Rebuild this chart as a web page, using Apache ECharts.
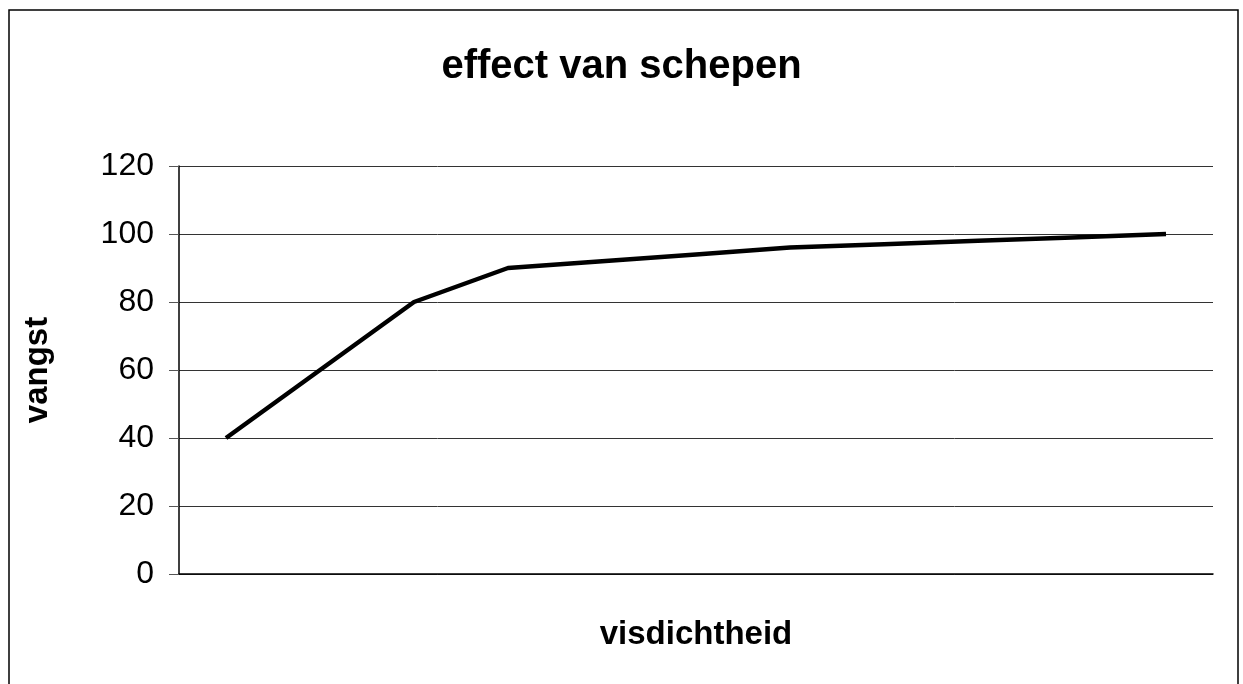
<!DOCTYPE html>
<html>
<head>
<meta charset="utf-8">
<script src="https://cdn.jsdelivr.net/npm/echarts@6/dist/echarts.min.js"></script>
<style>
	html, body { margin: 0; padding: 0; background: #fff; }
	#chart { width: 1243px; height: 684px; }
</style>
</head>
<body>
<div id="chart"></div>
<script>
// categorieen op de x-as (geen labels zichtbaar in het origineel)
const visdichtheid = ['1', '2', '3', '4', '5', '6', '7', '8', '9', '10', '11'];
// vangst per categorie
const vangst = [40, 60, 80, 90, 92, 94, 96, 97, 98, 99, 100];
// y-as
const yMin = 0;
const yMax = 120;
const yStep = 20;

const font = 'Liberation Sans, Arial, sans-serif';

let myChart = echarts.init(document.getElementById('chart'));
myChart.setOption({
	backgroundColor: '#fff',
	animation: false,
	title: {
		text: 'effect van schepen',
		left: 'center',
		top: 42,
		textStyle: {
			fontFamily: font,
			fontSize: 40,
			fontWeight: 'bold',
			color: '#000',
		},
	},
	// kader rond de grafiek
	graphic: [
		{
			type: 'rect',
			shape: { x: 9, y: 10, width: 1229, height: 700 },
			style: { fill: 'none', stroke: '#000', lineWidth: 1.5 },
			silent: true,
		},
	],
	grid: {
		left: 179,
		right: 30,
		top: 166,
		bottom: 110,
	},
	xAxis: {
		type: 'category',
		data: visdichtheid,
		boundaryGap: true,
		name: 'visdichtheid',
		nameLocation: 'middle',
		nameGap: 44,
		nameTextStyle: {
			fontFamily: font,
			fontSize: 33,
			fontWeight: 'bold',
			color: '#000',
		},
		axisLine: { show: true, lineStyle: { color: '#000', width: 1.5 } },
		axisTick: { show: false },
		axisLabel: { show: false },
		splitLine: { show: false },
	},
	yAxis: {
		type: 'value',
		min: yMin,
		max: yMax,
		interval: yStep,
		name: 'vangst',
		nameLocation: 'middle',
		nameRotate: 90,
		nameGap: 125,
		nameTextStyle: {
			fontFamily: font,
			fontSize: 33,
			fontWeight: 'bold',
			color: '#000',
		},
		axisLine: { show: true, lineStyle: { color: '#000', width: 1.5 } },
		axisTick: { show: true, length: 10, lineStyle: { color: '#555' } },
		axisLabel: {
			margin: 25,
			fontFamily: font,
			fontSize: 32,
			color: '#000',
		},
		splitLine: { show: true, lineStyle: { color: '#333', width: 1 } },
	},
	series: [
		{
			name: 'vangst',
			type: 'line',
			data: vangst,
			symbol: 'none',
			lineStyle: { color: '#000', width: 4.5 },
		},
	],
});
</script>
</body>
</html>
